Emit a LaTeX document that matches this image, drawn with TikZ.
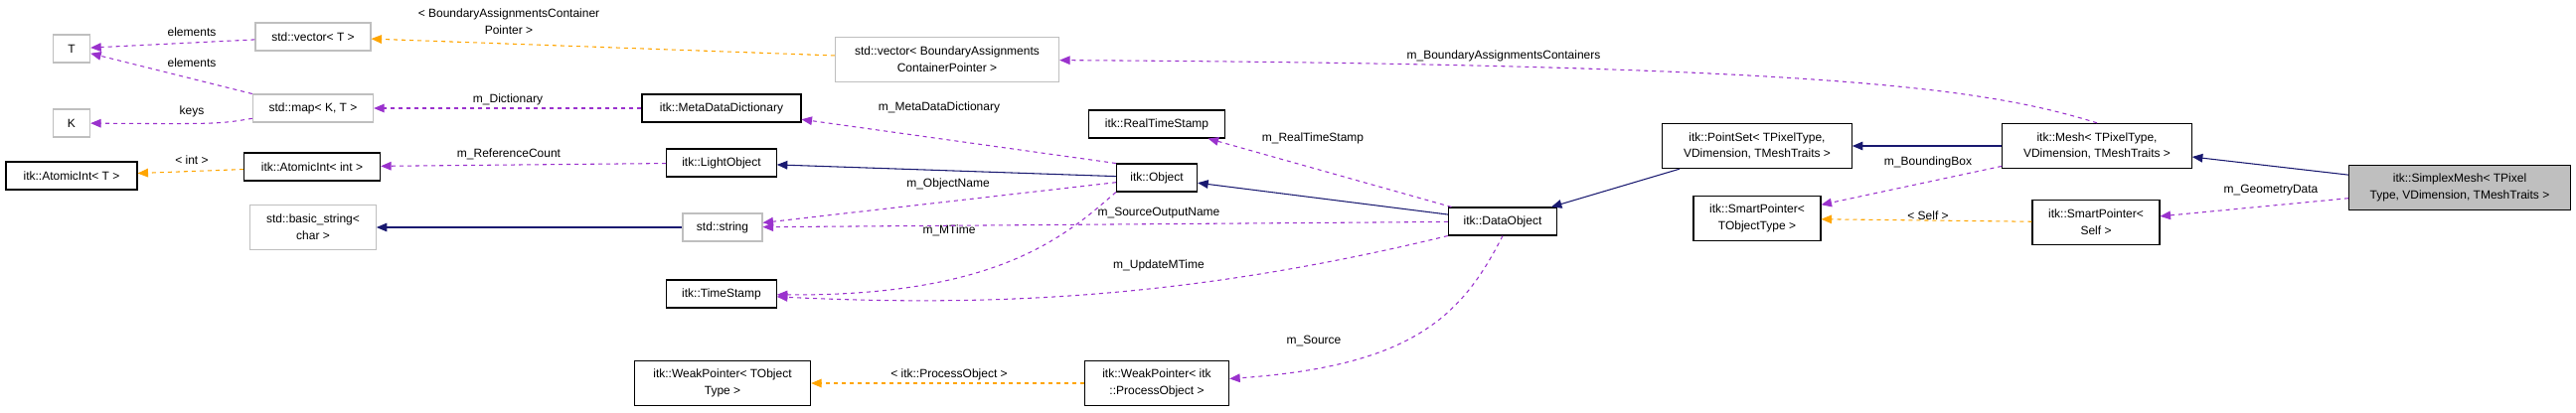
\documentclass[tikz,border=0pt]{standalone}
\usepackage{fontspec}
\setmainfont{Liberation Sans}
\usetikzlibrary{arrows, positioning}
\definecolor{edgepurple}{HTML}{9A32CD}
\definecolor{edgeorange}{HTML}{FFA500}
\definecolor{edgenavy}{HTML}{191970}
\definecolor{boxgray}{HTML}{BFBFBF}
\tikzset{
    class_node/.style={rectangle, draw=black, thick, text centered, align=center, inner sep=2pt, minimum height=21pt, font=\fontsize{9}{12.5}\selectfont},
    ext_node/.style={class_node, draw=boxgray},
    main_node/.style={class_node, fill=boxgray},
    member_arrow/.style={edgepurple, thick, dashed, ->, >=triangle 45},
    tmpl_arrow/.style={edgeorange, thick, dashed, ->, >=triangle 45},
    inherit_arrow/.style={edgenavy, thick, ->, >=triangle 45},
    lbl/.style={text=black, font=\fontsize{9}{12.5}\selectfont, align=center, inner sep=1pt},
}
\begin{document}
\begin{tikzpicture}[x=0.75pt, y=-0.75pt]
      \useasboundingbox (0,0) rectangle (2592,415);
      %%%%%%%%%%%%%%%%%%%
      % Left hand types %
      %%%%%%%%%%%%%%%%%%%
      \node (t) [ext_node, minimum width=28pt] at (72,49) {T};
      \node (k) [ext_node, minimum width=28pt] at (72,124) {K};
      \node (vect) [ext_node, minimum width=87pt] at (315,37) {std::vector\textless{} T \textgreater};
      \node (mapkt) [ext_node, minimum width=91pt] at (315,109) {std::map\textless{} K, T \textgreater};
      \node (atomict) [class_node, minimum width=99pt] at (72,177) {itk::AtomicInt\textless{} T \textgreater};
      \node (atomicint) [class_node, minimum width=103pt] at (314,168) {itk::AtomicInt\textless{} int \textgreater};
      \node (basicstr) [ext_node, minimum width=95pt, minimum height=34pt] at (315,229) {std::basic\_string\textless\\char \textgreater};
      %%%%%%%%%%%%%%%
      % Middle part %
      %%%%%%%%%%%%%%%
      \node (metadict) [class_node, minimum width=120pt] at (726,109) {itk::MetaDataDictionary};
      \node (lightobj) [class_node, minimum width=83pt] at (726,164) {itk::LightObject};
      \node (stdstr) [ext_node, minimum width=60pt] at (727,229) {std::string};
      \node (timestamp) [class_node, minimum width=83pt] at (726,296) {itk::TimeStamp};
      \node (weakobj) [class_node, minimum width=133pt, minimum height=34pt] at (727,386) {itk::WeakPointer\textless{} TObject\\Type \textgreater};
      \node (bacvec) [ext_node, minimum width=169pt, minimum height=34pt] at (953,60) {std::vector\textless{} BoundaryAssignments\\ContainerPointer \textgreater};
      \node (realts) [class_node, minimum width=103pt] at (1164,125) {itk::RealTimeStamp};
      \node (object) [class_node, minimum width=61pt] at (1164,179) {itk::Object};
      \node (weakproc) [class_node, minimum width=109pt, minimum height=34pt] at (1164,386) {itk::WeakPointer\textless{} itk\\::ProcessObject \textgreater};
      \node (dataobj) [class_node, minimum width=82pt] at (1512,223) {itk::DataObject};
      %%%%%%%%%%%%%%
      % Right part %
      %%%%%%%%%%%%%%
      \node (pointset) [class_node, minimum width=143pt, minimum height=34pt] at (1768,147) {itk::PointSet\textless{} TPixelType,\\VDimension, TMeshTraits \textgreater};
      \node (smartobj) [class_node, minimum width=96pt, minimum height=34pt] at (1768,220) {itk::SmartPointer\textless\\TObjectType \textgreater};
      \node (mesh) [class_node, minimum width=143pt, minimum height=34pt] at (2110,147) {itk::Mesh\textless{} TPixelType,\\VDimension, TMeshTraits \textgreater};
      \node (smartself) [class_node, minimum width=96pt, minimum height=34pt] at (2109,224) {itk::SmartPointer\textless\\Self \textgreater};
      \node (simplex) [main_node, minimum width=167pt, minimum height=34pt] at (2475,189) {itk::SimplexMesh\textless{} TPixel\\Type, VDimension, TMeshTraits \textgreater};

      \draw [member_arrow] (vect) -- (t) node[lbl, at={(193,32)}] {elements};
      \draw [member_arrow] (mapkt.north west) -- (t) node[lbl, at={(193,63)}] {elements};
      \draw [member_arrow] (mapkt) .. controls (220,125) .. (k) node[lbl, at={(193,112)}] {keys};
      \draw [tmpl_arrow] (bacvec) -- (vect) node[lbl, at={(512,22)}] {\textless{} BoundaryAssignmentsContainer\\Pointer \textgreater};
      \draw [member_arrow] (metadict) -- (mapkt) node[lbl, at={(511,100)}] {m\_Dictionary};
      \draw [tmpl_arrow] (atomicint) -- (atomict) node[lbl, at={(193,161)}] {\textless{} int \textgreater};
      \draw [member_arrow] (lightobj) -- (atomicint) node[lbl, at={(512,155)}] {m\_ReferenceCount};
      \draw [inherit_arrow] (stdstr) -- (basicstr);
      \draw [inherit_arrow] (object) -- (lightobj);
      \draw [member_arrow] (object.north west) -- (metadict) node[lbl, at={(945,108)}] {m\_MetaDataDictionary};
      \draw [member_arrow] (object) -- (stdstr) node[lbl, at={(954,185)}] {m\_ObjectName};
      \draw [member_arrow] (object.south west) .. controls (1070,240) and (1000,300) .. (timestamp) node[lbl, at={(955,232)}] {m\_MTime};
      \draw [inherit_arrow] (dataobj) -- (object);
      \draw [member_arrow] (dataobj) -- (realts) node[lbl, at={(1321,139)}] {m\_RealTimeStamp};
      \draw [member_arrow] (dataobj) -- (stdstr) node[lbl, at={(1166,215)}] {m\_SourceOutputName};
      \draw [member_arrow] (dataobj.south west) .. controls (1200,300) and (1000,310) .. (timestamp) node[lbl, at={(1166,267)}] {m\_UpdateMTime};
      \draw [member_arrow] (dataobj.south) .. controls (1470,320) and (1420,370) .. (weakproc) node[lbl, at={(1322,343)}] {m\_Source};
      \draw [tmpl_arrow] (weakproc) -- (weakobj) node[lbl, at={(955,377)}] {\textless{} itk::ProcessObject \textgreater};
      \draw [inherit_arrow] (pointset) -- (dataobj);
      \draw [inherit_arrow] (mesh) -- (pointset);
      \draw [member_arrow] (mesh) -- (smartobj) node[lbl, at={(1940,163)}] {m\_BoundingBox};
      \draw [member_arrow] (mesh.north) .. controls (2000,90) and (1850,65) .. (bacvec) node[lbl, at={(1513,56)}] {m\_BoundaryAssignmentsContainers};
      \draw [inherit_arrow] (simplex) -- (mesh);
      \draw [member_arrow] (simplex) -- (smartself) node[lbl, at={(2285,192)}] {m\_GeometryData};
      \draw [tmpl_arrow] (smartself) -- (smartobj) node[lbl, at={(1940,217)}] {\textless{} Self \textgreater};
\end{tikzpicture}
\end{document}
